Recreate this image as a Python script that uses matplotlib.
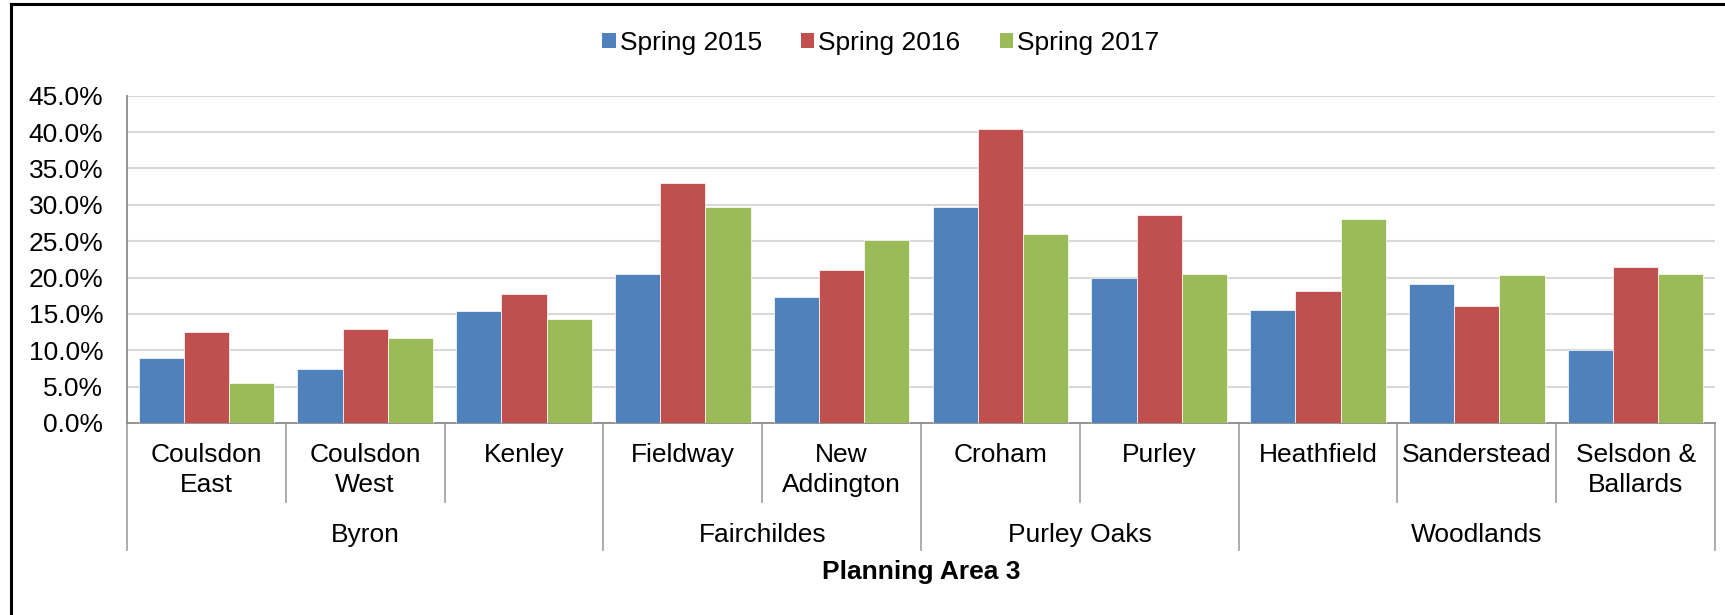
import matplotlib
matplotlib.use('Agg')
import matplotlib.pyplot as plt
from matplotlib.patches import Patch
from matplotlib.lines import Line2D
import numpy as np

# data
wards = ['Coulsdon\nEast', 'Coulsdon\nWest', 'Kenley', 'Fieldway', 'New\nAddington',
         'Croham', 'Purley', 'Heathfield', 'Sanderstead', 'Selsdon &\nBallards']
groups = ['Byron', 'Fairchildes', 'Purley Oaks', 'Woodlands']
group_sizes = [3, 2, 2, 3]
series_names = ['Spring 2015', 'Spring 2016', 'Spring 2017']
spring_2015 = [8.9, 7.4, 15.4, 20.5, 17.3, 29.7, 20.0, 15.6, 19.1, 10.1]
spring_2016 = [12.5, 12.9, 17.7, 33.0, 21.0, 40.4, 28.6, 18.1, 16.1, 21.4]
spring_2017 = [5.5, 11.7, 14.3, 29.7, 25.2, 26.0, 20.5, 28.1, 20.3, 20.5]
colours = ['#4F81BD', '#C0504D', '#9BBB59']

FS = 19
plt.rcParams['font.family'] = ['Liberation Sans', 'DejaVu Sans']
plt.rcParams['font.size'] = FS

fig = plt.figure(figsize=(17.25, 6.15), dpi=100)
ax = fig.add_axes([127 / 1725, 1 - 423 / 615, (1715 - 127) / 1725, (423 - 95.7) / 615])

x = np.arange(len(wards))
w = 0.285
for i, vals in enumerate([spring_2015, spring_2016, spring_2017]):
    ax.bar(x + (i - 1) * w, vals, width=w, color=colours[i], edgecolor='white',
           linewidth=0.5, zorder=3, label=series_names[i])

ax.set_xlim(-0.5, len(wards) - 0.5)
ax.set_ylim(0, 45)
ax.set_yticks(np.arange(0, 46, 5))
ax.set_yticklabels([f'{v:.1f}%' for v in np.arange(0, 46, 5)])
ax.tick_params(axis='y', length=0, pad=17, labelsize=FS)
ax.set_xticks([])
ax.grid(axis='y', color='#d9d9d9', linewidth=1.5, zorder=0)
for s in ['top', 'right']:
    ax.spines[s].set_visible(False)
ax.spines['left'].set_color('#8c8c8c')
ax.spines['bottom'].set_color('#8c8c8c')
ax.spines['left'].set_linewidth(1.3)
ax.spines['bottom'].set_linewidth(1.3)

# two-level category axis
tr = ax.get_xaxis_transform()
bounds = np.cumsum([0] + group_sizes) - 0.5
for k in range(len(wards) + 1):
    xb = k - 0.5
    y_end = -0.388 if xb in bounds else -0.241
    ax.add_line(Line2D([xb, xb], [0, y_end], transform=tr, color='#a6a6a6',
                       linewidth=1.3, clip_on=False))
for i, lab in enumerate(wards):
    ax.text(i, -0.06, lab, transform=tr, ha='center', va='top', fontsize=FS,
            linespacing=1.32)
for g, lab in enumerate(groups):
    ax.text((bounds[g] + bounds[g + 1]) / 2, -0.342, lab, transform=tr,
            ha='center', va='center', fontsize=FS)
ax.text(0.5, -0.455, 'Planning Area 3', transform=ax.transAxes, ha='center',
        va='center', fontsize=FS, fontweight='bold')

handles = [Patch(facecolor=c) for c in colours]
fig.legend(handles, series_names, loc='center', bbox_to_anchor=(881 / 1725, 1 - 43 / 615),
           ncol=3, frameon=False, handlelength=0.5, handleheight=0.5,
           handletextpad=0.15, columnspacing=1.5, fontsize=FS)

# chart border, cut at the top and right like the source
fig.add_artist(Line2D([11 / 1725, 11 / 1725], [0, 1 - 4 / 615], transform=fig.transFigure,
                      color='black', linewidth=2.2))
fig.add_artist(Line2D([11 / 1725, 1], [1 - 4 / 615, 1 - 4 / 615], transform=fig.transFigure,
                      color='black', linewidth=2.2))

fig.savefig('out.png', dpi=100)
plt.close(fig)
